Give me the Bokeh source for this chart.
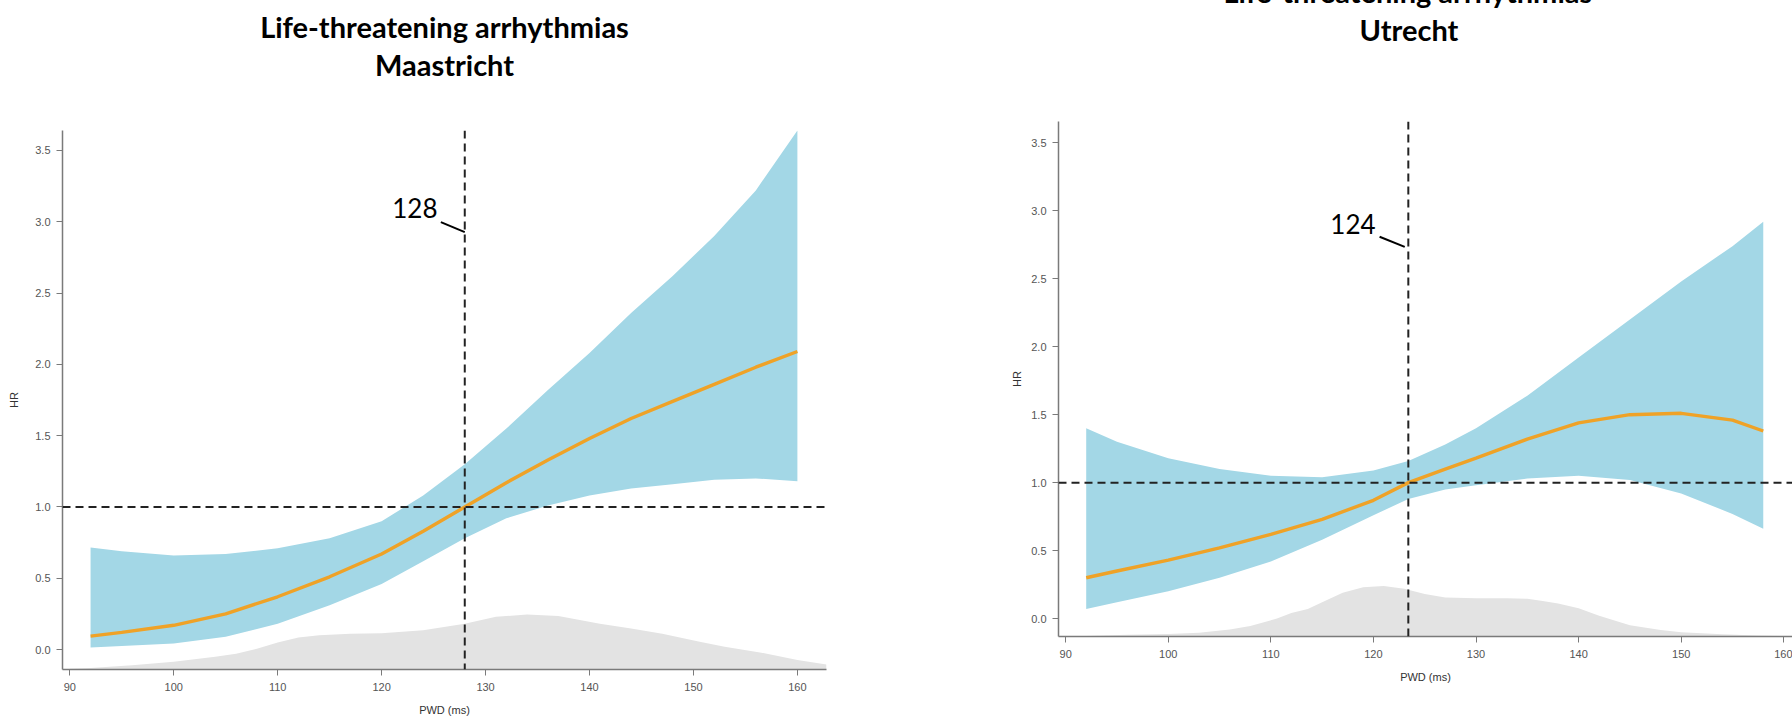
from bokeh.plotting import figure
from bokeh.models import Range1d, FixedTicker, NumeralTickFormatter, Span, Label, Title
from bokeh.layouts import row
from bokeh.embed import file_html
from bokeh.resources import INLINE

# ---------------- data ----------------
# Maastricht
x_maas = [92, 95, 100, 105, 110, 115, 120, 124, 128, 132, 136, 140, 144, 148, 152, 156, 160]
hr_maas = [0.094, 0.12, 0.17, 0.25, 0.37, 0.51, 0.67, 0.83, 1.0, 1.17, 1.33, 1.48, 1.62, 1.74, 1.86, 1.98, 2.09]
hi_maas = [0.715, 0.69, 0.66, 0.67, 0.71, 0.78, 0.90, 1.08, 1.30, 1.55, 1.82, 2.08, 2.36, 2.62, 2.90, 3.22, 3.64]
lo_maas = [0.014, 0.025, 0.042, 0.09, 0.18, 0.31, 0.46, 0.62, 0.78, 0.92, 1.01, 1.08, 1.13, 1.16, 1.19, 1.20, 1.18]
dens_x_maas = [90, 92, 96, 100, 104, 106, 108, 110, 112, 114, 117, 120, 124, 128, 131, 134, 137, 141, 144, 147, 150.6, 153, 156.4, 160, 162.8]
dens_y_maas = [-0.135, -0.13, -0.11, -0.086, -0.05, -0.03, 0.005, 0.05, 0.085, 0.10, 0.11, 0.115, 0.135, 0.18, 0.23, 0.245, 0.235, 0.18, 0.147, 0.11, 0.054, 0.02, -0.02, -0.074, -0.105]
cut_maas = 128

# Utrecht
x_utr = [92, 95, 100, 105, 110, 115, 120, 123.4, 127, 130, 135, 140, 145, 150, 155, 158]
hr_utr = [0.30, 0.35, 0.43, 0.52, 0.62, 0.73, 0.87, 1.0, 1.10, 1.18, 1.32, 1.44, 1.50, 1.51, 1.46, 1.38]
hi_utr = [1.40, 1.30, 1.18, 1.10, 1.05, 1.04, 1.09, 1.16, 1.28, 1.40, 1.64, 1.92, 2.20, 2.48, 2.74, 2.92]
lo_utr = [0.07, 0.12, 0.20, 0.30, 0.42, 0.58, 0.76, 0.88, 0.95, 0.98, 1.03, 1.05, 1.02, 0.92, 0.77, 0.66]
dens_x_utr = [90, 92, 96, 100, 103, 106, 108, 110.6, 112, 113.6, 115, 117, 119, 121, 123, 125, 127, 130, 133, 135, 136.5, 138, 140, 142, 145, 148, 150, 154, 157.4, 160.9]
dens_y_utr = [-0.13, -0.128, -0.12, -0.113, -0.105, -0.08, -0.055, 0.0, 0.04, 0.07, 0.12, 0.19, 0.23, 0.24, 0.22, 0.18, 0.155, 0.15, 0.15, 0.145, 0.13, 0.11, 0.075, 0.02, -0.05, -0.085, -0.10, -0.115, -0.125, -0.13]
cut_utr = 123.4
cut_label_utr = "124"
cut_label_maas = "128"

x_ticks = [90, 100, 110, 120, 130, 140, 150, 160]
y_ticks = [0.0, 0.5, 1.0, 1.5, 2.0, 2.5, 3.0, 3.5]
title_line1 = "Life-threatening arrhythmias"

BAND = "#A3D7E6"
LINE = "#EFA227"
DENS = "#E3E3E3"
AXIS = "#7a7a7a"
TICKTXT = "#555555"


def make_panel(x, hr, lo, hi, dx, dy, cut, cut_label, city, xr, yr, height, borders,
               hr_standoff, spacer_standoff, lbl_off, shift, title_align):
    left, right, top, bottom = borders
    p = figure(width=896, height=height, output_backend="svg", toolbar_location=None,
               x_range=Range1d(*xr), y_range=Range1d(*yr),
               min_border_left=left, min_border_right=right,
               min_border_top=top, min_border_bottom=bottom)
    p.margin = (-shift, 0, 0, 0)
    p.outline_line_color = None
    p.xgrid.visible = False
    p.ygrid.visible = False
    p.background_fill_color = "white"

    base = [yr[0]] * len(dx)
    p.varea(x=dx, y1=base, y2=dy, fill_color=DENS)
    p.varea(x=x, y1=lo, y2=hi, fill_color=BAND)
    p.line(x=x, y=hr, line_color=LINE, line_width=3.4)

    p.add_layout(Span(location=1.0, dimension="width", line_color="#222222",
                      line_width=2, line_dash="8 5"))
    p.add_layout(Span(location=cut, dimension="height", line_color="#222222",
                      line_width=2, line_dash="8 5"))

    # cut label + leader line
    lx, ly, sx0, sy0, sx1, sy1 = lbl_off
    p.add_layout(Label(x=cut + lx, y=ly, text=cut_label, text_align="center",
                       text_baseline="middle", text_font="Lato",
                       text_font_size="26px", text_color="black"))
    p.segment(x0=[cut + sx0], y0=[sy0], x1=[cut + sx1], y1=[sy1],
              line_color="black", line_width=2)

    for ax in (p.xaxis[0], p.yaxis[0]):
        ax.axis_line_color = AXIS
        ax.axis_line_width = 1.5
        ax.major_tick_line_color = AXIS
        ax.major_tick_out = 6
        ax.major_tick_in = 0
        ax.minor_tick_out = 0
        ax.minor_tick_in = 0
        ax.major_label_text_font = "Liberation Sans"
        ax.major_label_text_font_size = "11px"
        ax.major_label_text_color = TICKTXT
        ax.axis_label_text_font = "Liberation Sans"
        ax.axis_label_text_font_size = "11px"
        ax.axis_label_text_font_style = "normal"
        ax.axis_label_text_color = "#333333"
    p.xaxis.ticker = FixedTicker(ticks=x_ticks)
    p.yaxis.ticker = FixedTicker(ticks=y_ticks)
    p.yaxis.formatter = NumeralTickFormatter(format="0.0")
    p.xaxis.axis_label = "PWD (ms)"
    p.yaxis.axis_label = "HR"
    p.xaxis.major_label_standoff = 7
    p.yaxis.major_label_standoff = 6
    p.xaxis.axis_label_standoff = 10
    p.yaxis.axis_label_standoff = hr_standoff

    # spacer (closest to the frame), then the two title lines
    align, off_city, off_line1 = title_align
    p.add_layout(Title(text=" ", text_font_size="10px", standoff=spacer_standoff), "above")
    p.add_layout(Title(text=city, align=align, offset=off_city, text_font="Lato",
                       text_font_style="bold", text_font_size="29px",
                       text_color="black", standoff=1), "above")
    p.add_layout(Title(text=title_line1, align=align, offset=off_line1, text_font="Lato",
                       text_font_style="bold", text_font_size="29px",
                       text_color="black", standoff=1), "above")
    return p


# left: frame on page 130..669, figure shifted up 29 px
p1 = make_panel(x_maas, hr_maas, lo_maas, hi_maas, dens_x_maas, dens_y_maas,
                cut_maas, cut_label_maas, "Maastricht",
                (89.3, 162.8), (-0.14, 3.64), 750, (62, 70, 159, 52), 12,
                35, (-4.8, 3.093, -2.3, 2.997, 0.0, 2.927), 29, ("center", 0, 0))
# right: frame on page 121..636, figure shifted up 38 px
p2 = make_panel(x_utr, hr_utr, lo_utr, hi_utr, dens_x_utr, dens_y_utr,
                cut_utr, cut_label_utr, "Utrecht",
                (89.3, 160.85), (-0.132, 3.657), 726, (162, 0, 159, 52), 5,
                61, (-5.4, 2.902, -2.8, 2.809, -0.35, 2.735), 38, ("left", 301, 165))

layout = row(p1, p2)
open("out.html", "w").write(file_html(layout, INLINE))
